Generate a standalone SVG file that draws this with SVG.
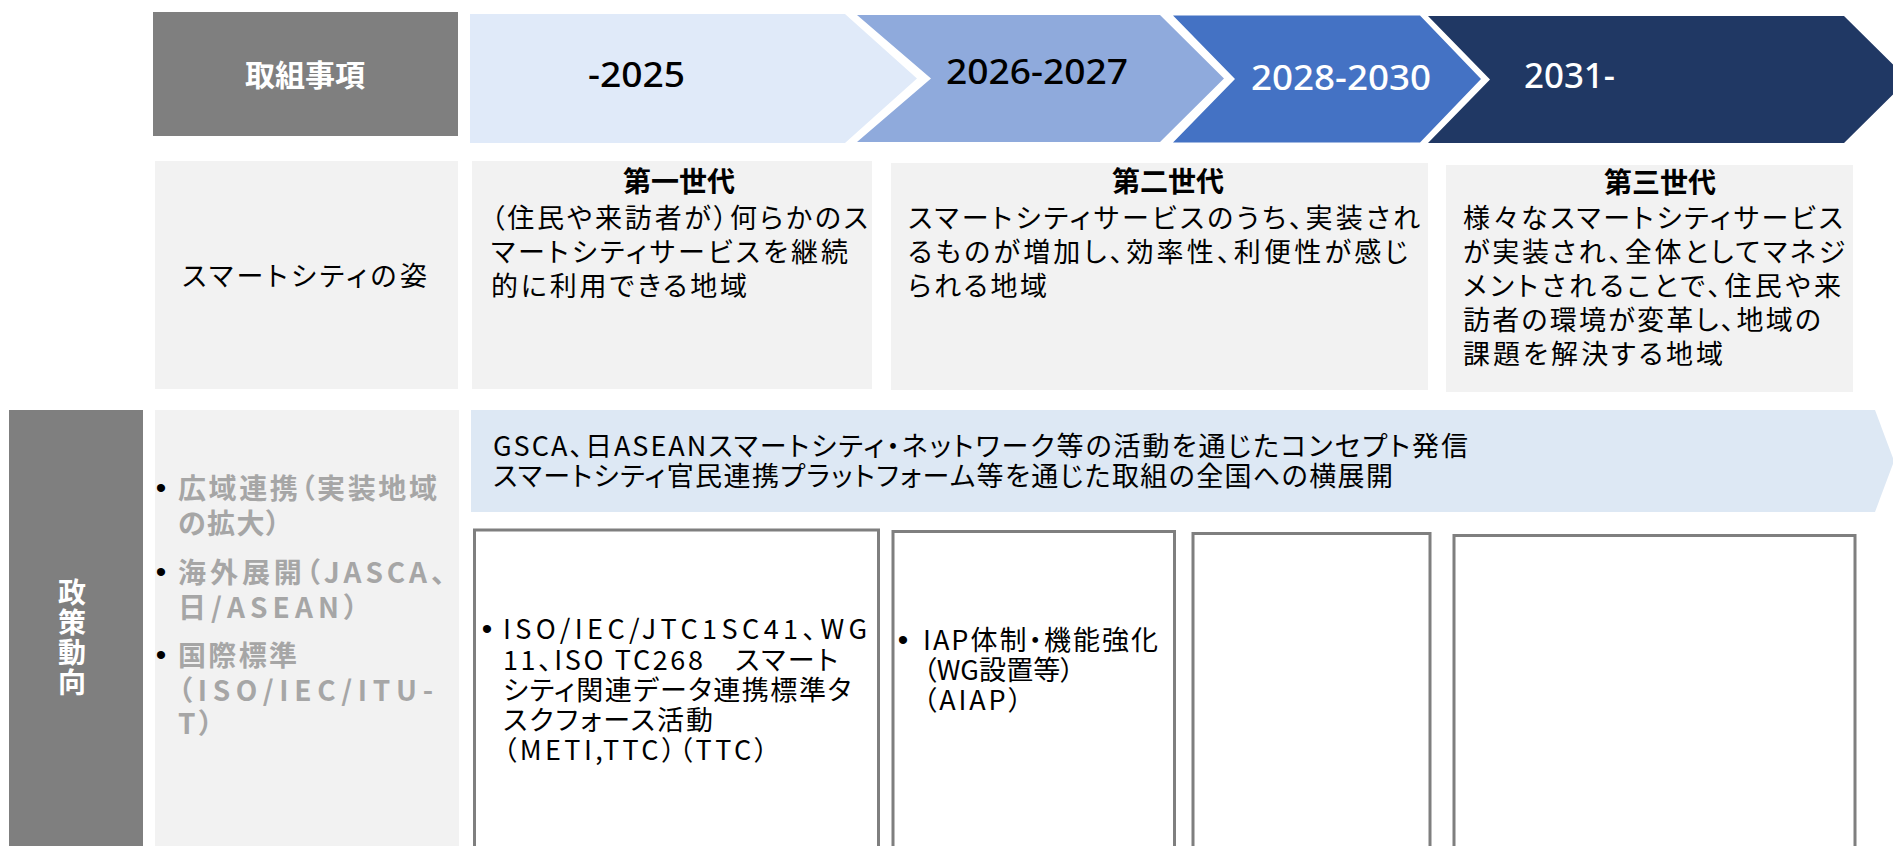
<svg xmlns="http://www.w3.org/2000/svg" width="1893" height="846" viewBox="0 0 1893 846">
<style>
.jp{font-family:"Noto Sans CJK JP","Noto Sans",sans-serif;font-feature-settings:"palt";}
.body{font-size:27px;fill:#000;}
.ttl{font-size:28px;font-weight:700;fill:#000;text-anchor:middle;}
.yr{font-family:"Noto Sans","Liberation Sans",sans-serif;font-size:34px;font-weight:500;}
.side{font-size:28px;font-weight:700;fill:#a6a6a6;}
.bul{font-family:"Liberation Sans","Noto Sans",sans-serif;font-size:30px;fill:#000;text-anchor:middle;}
.panel{fill:#f2f2f2;}
.box{fill:#fff;stroke:#7f7f7f;stroke-width:3;}
.lbl{fill:#7f7f7f;}
.wt{fill:#fff;font-weight:700;text-anchor:middle;}
</style>

<g id="header-label">
  <rect class="lbl" x="153" y="12" width="305" height="124"/>
  <text class="jp wt" x="305" y="86" font-size="30">取組事項</text>
</g>

<g id="phase-2025">
  <polygon points="470,14 845,14 917,78.5 845,143 470,143" fill="#e0eaf9"/>
  <text class="yr" x="588" y="86.5" fill="#000" textLength="97" lengthAdjust="spacingAndGlyphs">-2025</text>
</g>
<g id="phase-2026-2027">
  <polygon points="857,15 1160,15 1224,78.5 1160,142 857,142 931,78.5" fill="#8faadc"/>
  <text class="yr" x="946" y="83.5" fill="#000" textLength="182" lengthAdjust="spacingAndGlyphs">2026-2027</text>
</g>
<g id="phase-2028-2030">
  <polygon points="1173,15.5 1420,15.5 1481,79 1420,142.5 1173,142.5 1235,79" fill="#4472c4"/>
  <text class="yr" x="1251" y="90" fill="#fff" textLength="180" lengthAdjust="spacingAndGlyphs">2028-2030</text>
</g>
<g id="phase-2031">
  <polygon points="1428,16 1844,16 1908,79.5 1844,143 1428,143 1490,79.5" fill="#203864"/>
  <text class="yr" x="1524" y="88" fill="#fff" textLength="91" lengthAdjust="spacingAndGlyphs">2031-</text>
</g>

<g id="row-smartcity-label">
  <rect class="panel" x="155" y="161" width="303" height="228"/>
  <text class="jp body" x="182" y="286" textLength="245">スマートシティの姿</text>
</g>

<g id="gen-1">
  <rect class="panel" x="472" y="161" width="400" height="228"/>
  <text class="jp ttl" x="679" y="192">第一世代</text>
  <text class="jp body"><tspan x="491" y="228" textLength="377">（住民や来訪者が）何らかのス</tspan><tspan x="491" y="262" textLength="357">マートシティサービスを継続</tspan><tspan x="491" y="296" textLength="256">的に利用できる地域</tspan></text>
</g>

<g id="gen-2">
  <rect class="panel" x="891" y="163" width="537" height="227"/>
  <text class="jp ttl" x="1168" y="192">第二世代</text>
  <text class="jp body"><tspan x="908" y="228" textLength="512">スマートシティサービスのうち、実装され</tspan><tspan x="908" y="262" textLength="500">るものが増加し、効率性、利便性が感じ</tspan><tspan x="908" y="296" textLength="139">られる地域</tspan></text>
</g>

<g id="gen-3">
  <rect class="panel" x="1446" y="165" width="407" height="227"/>
  <text class="jp ttl" x="1660" y="193">第三世代</text>
  <text class="jp body"><tspan x="1463" y="228" textLength="380">様々なスマートシティサービス</tspan><tspan x="1463" y="262" textLength="382">が実装され、全体としてマネジ</tspan><tspan x="1463" y="296" textLength="378">メントされることで、住民や来</tspan><tspan x="1463" y="330" textLength="358">訪者の環境が変革し、地域の</tspan><tspan x="1463" y="364" textLength="260">課題を解決する地域</tspan></text>
</g>

<g id="policy-label">
  <rect class="lbl" x="9" y="410" width="134" height="436"/>
  <text class="jp wt" x="72" y="578" font-size="28" style="writing-mode:vertical-rl;letter-spacing:2px;text-anchor:start">政策動向</text>
</g>

<g id="policy-topics">
  <rect class="panel" x="155" y="410" width="304" height="436"/>
  <text class="bul" x="161" y="498">•</text>
  <text class="bul" x="161" y="582">•</text>
  <text class="bul" x="161" y="665">•</text>
  <text class="jp side"><tspan x="178" y="499" textLength="259">広域連携（実装地域</tspan><tspan x="178" y="534" textLength="102">の拡大）</tspan><tspan x="178" y="583" textLength="267">海外展開（JASCA、</tspan><tspan x="178" y="618" textLength="180">日/ASEAN）</tspan><tspan x="178" y="666" textLength="119">国際標準</tspan><tspan x="178" y="701" textLength="255">（ISO/IEC/ITU-</tspan><tspan x="178" y="734" textLength="35">T）</tspan></text>
</g>

<g id="banner">
  <polygon points="471,410 1875,410 1894,461 1875,512 471,512" fill="#dde8f4"/>
  <text class="jp body"><tspan x="493" y="456" textLength="975">GSCA、日ASEANスマートシティ・ネットワーク等の活動を通じたコンセプト発信</tspan><tspan x="493" y="486" textLength="900">スマートシティ官民連携プラットフォーム等を通じた取組の全国への横展開</tspan></text>
</g>

<g id="box-2025">
  <rect class="box" x="474.5" y="530" width="404" height="330"/>
  <text class="bul" x="487" y="639">•</text>
  <text class="jp body"><tspan x="503" y="639" textLength="364">ISO/IEC/JTC1SC41、WG</tspan><tspan x="503" y="669.5" textLength="335">11、ISO TC268　スマート</tspan><tspan x="503" y="700" textLength="348">シティ関連データ連携標準タ</tspan><tspan x="503" y="730" textLength="210">スクフォース活動</tspan><tspan x="503" y="760" textLength="265">（METI,TTC）（TTC）</tspan></text>
</g>

<g id="box-2026-2027">
  <rect class="box" x="893" y="531.5" width="281.5" height="330"/>
  <text class="bul" x="903" y="650">•</text>
  <text class="jp body"><tspan x="923" y="650" textLength="235">IAP体制・機能強化</tspan><tspan x="923" y="680" textLength="151">（WG設置等）</tspan><tspan x="923" y="710" textLength="99">（AIAP）</tspan></text>
</g>

<g id="box-2028-2030">
  <rect class="box" x="1193" y="533.5" width="237" height="330"/>
</g>

<g id="box-2031">
  <rect class="box" x="1454" y="535.5" width="401" height="330"/>
</g>
</svg>
